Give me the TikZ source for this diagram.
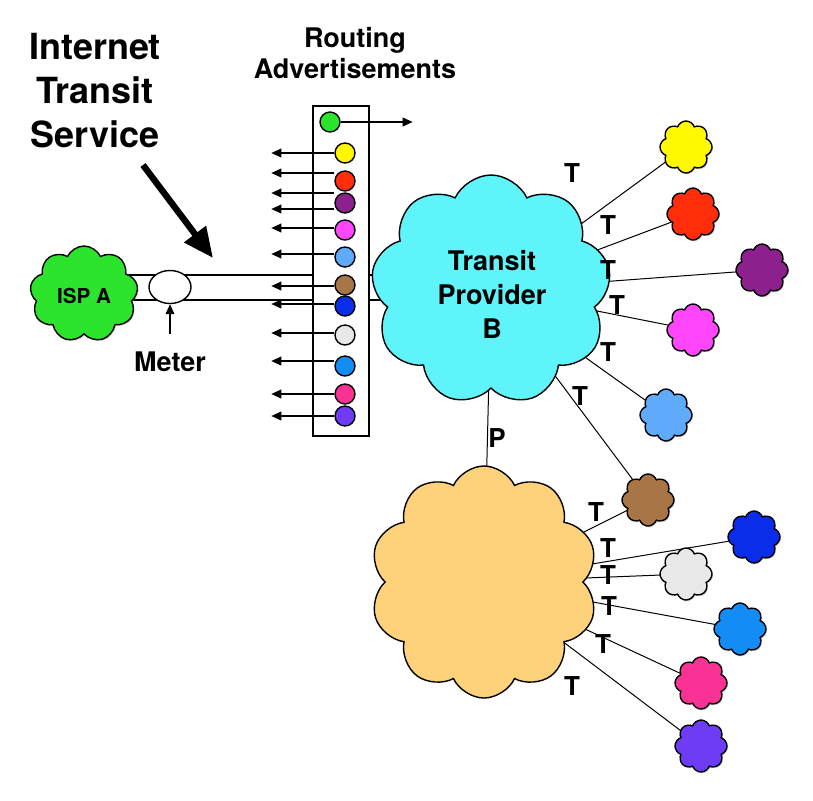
\documentclass[tikz,border=0pt]{standalone}
\usepackage{fontspec}
\setmainfont{TeX Gyre Heros}
\usepackage{tikz}
\usetikzlibrary{shapes.symbols,shapes.geometric}
\usetikzlibrary{shadows}
\usetikzlibrary{arrows.meta}
\usetikzlibrary{backgrounds}
\usetikzlibrary{positioning}

\definecolor{ispgreen}{RGB}{45,228,45}
\definecolor{transitcyan}{RGB}{95,243,250}
\definecolor{peerorange}{RGB}{253,210,122}
\definecolor{asyellow}{RGB}{255,248,0}
\definecolor{asred}{RGB}{255,45,10}
\definecolor{aspurple}{RGB}{140,32,140}
\definecolor{asmagenta}{RGB}{255,70,250}
\definecolor{asltblue}{RGB}{95,170,250}
\definecolor{asbrown}{RGB}{168,118,70}
\definecolor{asblue}{RGB}{10,45,235}
\definecolor{asgrey}{RGB}{232,232,232}
\definecolor{asmidblue}{RGB}{20,140,245}
\definecolor{aspink}{RGB}{250,50,150}
\definecolor{asviolet}{RGB}{110,60,245}

\tikzstyle{bigcloud}=[cloud,cloud puffs=9,cloud puff arc=130,draw=black,line width=0.7pt,inner sep=0pt]
\tikzstyle{smallcloud}=[cloud,cloud puffs=8,cloud puff arc=140,draw=black,line width=0.7pt,inner sep=0pt,minimum width=26pt,minimum height=26pt,drop shadow={shadow xshift=0.5pt,shadow yshift=-0.7pt,opacity=0.35}]
\tikzstyle{advdot}=[circle,draw=black,line width=0.7pt,minimum size=10pt,inner sep=0pt]
\tikzstyle{link}=[draw,line width=0.5pt]
\tikzstyle{tube}=[draw,line width=0.7pt]
\tikzstyle{advarrow}=[draw,line width=0.6pt,-{Triangle[length=5pt,width=4.4pt]}]
\tikzstyle{lbl}=[font=\bfseries\fontsize{13.5}{17}\selectfont,inner sep=1pt]
\tikzstyle{tlabel}=[font=\bfseries\fontsize{13}{15}\selectfont,inner sep=0pt]

\begin{document}
\begin{tikzpicture}[x=0.5pt,y=-0.5pt]

 \useasboundingbox (0,0) rectangle (813,800);

 %titles
 \node[lbl,align=center,font=\bfseries\fontsize{18}{22}\selectfont] (service) at (95,91) {Internet\\Transit\\Service};
 \node[lbl,align=center,font=\bfseries\fontsize{13.5}{15.5}\selectfont] (routing) at (355,53) {Routing\\Advertisements};

 \coordinate (servicetail) at (143,165);
 \coordinate (servicetip) at (213,258);
 \draw[line width=3.2pt,-{Triangle[length=15pt,width=13pt]}] (servicetail) -- (servicetip);

 %clouds
 \node[bigcloud,fill=ispgreen,minimum width=54pt,minimum height=48pt,drop shadow={shadow xshift=0.5pt,shadow yshift=-0.7pt,opacity=0.35}] (ispa) at (84,294) {};
 \node[lbl,font=\bfseries\fontsize{10.3}{12}\selectfont] (ispalabel) at (84,296) {ISP A};

 \node[bigcloud,fill=transitcyan,minimum width=120pt,minimum height=115pt] (transit) at (491,290) {};
 \node[lbl,align=center] (transitlabel) at (492,294) {Transit\\Provider\\B};

 \node[bigcloud,cloud puffs=10,fill=peerorange,minimum width=114pt,minimum height=116pt] (peer) at (484,582) {};

 \foreach \x/\y/\name/\col in {686/147/yellowas/asyellow, 693/214/redas/asred, 762/270/purpleas/aspurple,
          693/330/magentaas/asmagenta, 666/415/ltblueas/asltblue, 648/500/brownas/asbrown,
          754/537/blueas/asblue, 686/574/greyas/asgrey, 740/629/midblueas/asmidblue,
          701/683/pinkas/aspink, 701/746/violetas/asviolet}
          \node[smallcloud,fill=\col] (\name) at (\x,\y) {};

 %meter
 \node[ellipse,draw,fill=white,line width=0.7pt,minimum width=21pt,minimum height=16.5pt,inner sep=0pt] (meter) at (170,287) {};
 \node[lbl] (meterlabel) at (170,362) {Meter};
 \draw[advarrow] ([yshift=8pt]meterlabel.north) -- (meter.south);

 %advertisement box
 \node[draw,line width=0.75pt,minimum width=28pt,minimum height=165pt,inner sep=0pt] (adbox) at (341,271) {};

 \node[advdot,fill=ispgreen] (advgreen) at (330,122) {};
 \foreach \y/\name/\col in {153/advyellow/asyellow, 181/advred/asred, 203/advpurple/aspurple,
          230/advmagenta/asmagenta, 257/advltblue/asltblue, 285/advbrown/asbrown,
          306/advblue/asblue, 335/advgrey/asgrey, 366/advmidblue/asmidblue,
          394/advpink/aspink, 416/advviolet/asviolet}
          \node[advdot,fill=\col] (\name) at (345,\y) {};

 \draw[advarrow] (advgreen.east) -- ++(72,0);

 \begin{scope}[on background layer]
  \foreach \name/\s in {advyellow/0, advred/4, advred/-6, advpurple/-3, advmagenta/1, advltblue/1.5,
           advbrown/-0.5, advblue/1, advgrey/1, advmidblue/2.5, advpink/0, advviolet/0}
         \draw[advarrow] ([yshift=\s pt]\name.west) -- ++(-63,0);

  %tube
  \coordinate (tubetop) at (100,275);
  \coordinate (tubebot) at (100,300);
  \foreach \c in {tubetop,tubebot}
   {
    \draw[tube] (\c) -- (\c -| adbox.west);
    \draw[tube] (\c -| adbox.east) -- (\c -| transit.center);
   }

  %links
  \foreach \dest in {yellowas,redas,purpleas,magentaas,ltblueas,brownas}
         \path[link] (transit.center) -- (\dest.center);
  \foreach \dest in {brownas,blueas,greyas,midblueas,pinkas,violetas}
         \path[link] (peer.center) -- (\dest.center);
  \path[link] (transit.center) -- (peer.center);
 \end{scope}

 %labels
 \foreach \x/\y/\name in {572/173/t1, 608/225/t2, 608/270/t3, 617/305/t4, 608/352/t5, 580/396/t6,
          596/512/t7, 608/548/t8, 608/575/t9, 609/606/t10, 603/644/t11, 572/686/t12}
          \node[tlabel] (\name) at (\x,\y) {T};
 \node[tlabel] (plabel) at (497,438) {P};

\end{tikzpicture}
\end{document}
